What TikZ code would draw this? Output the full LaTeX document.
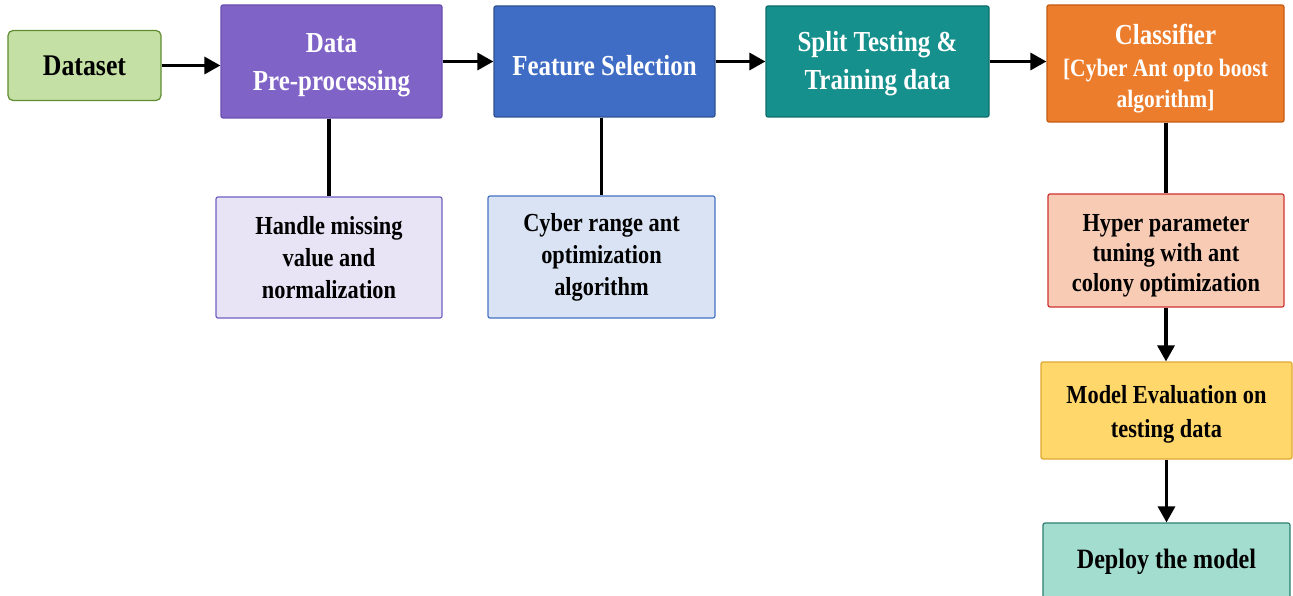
\documentclass[tikz,border=0pt]{standalone}
\usepackage{fontspec}
\setmainfont{Liberation Serif}[FakeStretch=0.86]
\usetikzlibrary{arrows.meta}

\definecolor{dsFill}{HTML}{C5E0A5}
\definecolor{dsLine}{HTML}{5E8C31}
\definecolor{ppFill}{HTML}{7F63C6}
\definecolor{ppLine}{HTML}{6A4FB0}
\definecolor{fsFill}{HTML}{3F6DC5}
\definecolor{fsLine}{HTML}{2F528F}
\definecolor{spFill}{HTML}{16908C}
\definecolor{spLine}{HTML}{0E6E6B}
\definecolor{clFill}{HTML}{EC7D2C}
\definecolor{clLine}{HTML}{C55A11}
\definecolor{hmFill}{HTML}{E8E4F6}
\definecolor{hmLine}{HTML}{7060C0}
\definecolor{crFill}{HTML}{DAE3F3}
\definecolor{crLine}{HTML}{4472C4}
\definecolor{hpFill}{HTML}{F8CBB4}
\definecolor{hpLine}{HTML}{D03030}
\definecolor{meFill}{HTML}{FFD76A}
\definecolor{meLine}{HTML}{E0A830}
\definecolor{dmFill}{HTML}{A2DDCF}
\definecolor{dmLine}{HTML}{2E7D6E}

% invisible strut that lowers a node's text a little
\newcommand{\lift}[1]{\rule{0pt}{#1}}

\tikzset{
  box/.style={draw, line width=1.2pt, rounded corners=2pt, align=center,
    inner sep=0pt, font=\bfseries},
  title/.style={font=\bfseries\fontsize{29}{38}\selectfont},
  body/.style={font=\bfseries\fontsize{26}{32}\selectfont},
  flow/.style={line width=3.2pt, -{Triangle[length=16pt,width=17pt]}},
  link/.style={line width=3.2pt},
}

\begin{document}
\begin{tikzpicture}[x=1pt,y=-1pt]
\useasboundingbox (0,0) rectangle (1293,596);

% main row
\node[box, fill=dsFill, draw=dsLine, rounded corners=5pt,
  font=\bfseries\fontsize{30}{36}\selectfont,
  minimum width=153pt, minimum height=70pt] (ds) at (84.5,65.5) {Dataset};
\node[box, title, fill=ppFill, draw=ppLine, text=white,
  minimum width=221pt, minimum height=113pt] (pp) at (331.5,61.5)
  {\lift{27pt}Data\\Pre-processing};
\node[box, title, fill=fsFill, draw=fsLine, text=white,
  minimum width=221pt, minimum height=111pt] (fs) at (604.5,61.5)
  {\lift{28pt}Feature Selection};
\node[box, title, fill=spFill, draw=spLine, text=white,
  minimum width=223pt, minimum height=111pt] (sp) at (877.5,61.5)
  {\lift{24pt}Split Testing \&\\Training data};
\node[box, fill=clFill, draw=clLine, text=white,
  font=\bfseries\fontsize{29}{31}\selectfont,
  minimum width=237pt, minimum height=117pt] (cl) at (1165.5,63.5)
  {\lift{30pt}Classifier\\[1pt]
   \fontsize{25}{24}\selectfont [Cyber Ant opto boost\\
   \fontsize{25}{24}\selectfont algorithm]};

% detail boxes
\node[box, body, fill=hmFill, draw=hmLine,
  minimum width=226pt, minimum height=121pt] (hm) at (329,257.5)
  {Handle missing\\value and\\normalization};
\node[box, body, fill=crFill, draw=crLine,
  minimum width=227pt, minimum height=122pt] (cr) at (601.5,257)
  {Cyber range ant\\optimization\\algorithm};
\node[box, fill=hpFill, draw=hpLine, font=\bfseries\fontsize{26}{30}\selectfont,
  minimum width=236pt, minimum height=113pt] (hp) at (1166,250.5)
  {\lift{28pt}Hyper parameter\\tuning with ant\\colony optimization};
\node[box, fill=meFill, draw=meLine, font=\bfseries\fontsize{26}{34}\selectfont,
  minimum width=251pt, minimum height=97pt] (me) at (1166.5,410.5)
  {\lift{25pt}Model Evaluation on\\testing data};
\node[box, fill=dmFill, draw=dmLine, font=\bfseries\fontsize{28}{32}\selectfont,
  minimum width=247pt, minimum height=77pt] (dm) at (1166.5,561.5)
  {Deploy the model};

% connectors
\draw[flow] (ds.east) -- (ds.east -| pp.west);
\draw[flow] (pp.east |- fs.west) -- (fs.west);
\draw[flow] (fs.east) -- (sp.west);
\draw[flow] (sp.east) -- (sp.east -| cl.west);
\draw[link] (pp.south -| hm.north) -- (hm.north);
\draw[link] (fs.south -| cr.north) -- (cr.north);
\draw[link] (cl.south -| hp.north) -- (hp.north);
\draw[flow] (hp.south) -- (hp.south |- me.north);
\draw[flow] (me.south) -- (me.south |- dm.north);
\end{tikzpicture}
\end{document}
